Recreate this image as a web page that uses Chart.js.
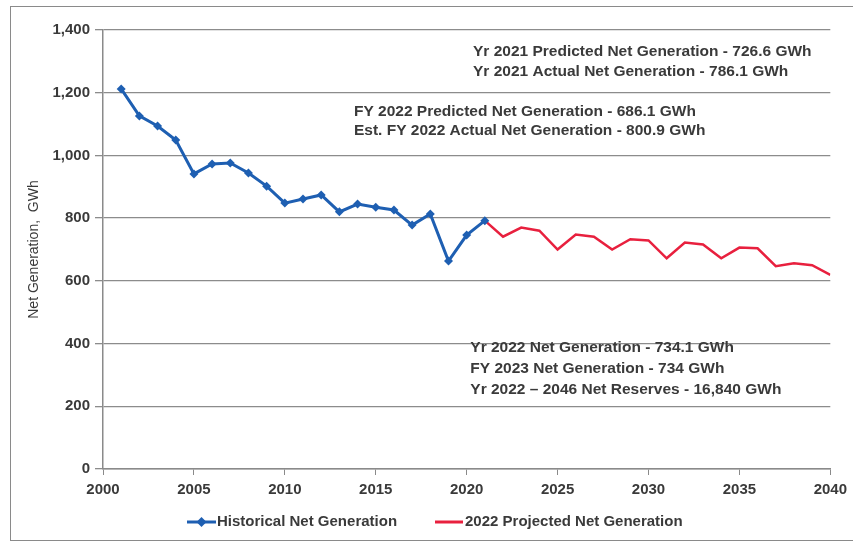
<!DOCTYPE html>
<html>
<head>
<meta charset="utf-8">
<title>Net Generation</title>
<script src="https://cdn.jsdelivr.net/npm/chart.js@4"></script>
<style>
  html, body { margin: 0; padding: 0; background: #fff; overflow: hidden; }
  #wrap { position: relative; width: 853px; height: 542px; overflow: hidden; }
  #frame { position: absolute; left: 10px; top: 6px; width: 900px; height: 533px; border: 1px solid #8a8a8a; pointer-events: none; }
</style>
</head>
<body>
<div id="wrap">
  <canvas id="myChart" width="853" height="542"></canvas>
  <div id="frame"></div>
</div>
<script>
// historical series
const histYears = [2001, 2002, 2003, 2004, 2005, 2006, 2007, 2008, 2009, 2010, 2011,
                   2012, 2013, 2014, 2015, 2016, 2017, 2018, 2019, 2020, 2021];
const histValues = [1212, 1126, 1094, 1049, 941, 973, 976, 944, 902, 848, 861,
                    874, 820, 845, 835, 826, 778, 813, 663, 746, 792];

// 2022 projection
const projYears = [2021, 2022, 2023, 2024, 2025, 2026, 2027, 2028, 2029, 2030, 2031,
                   2032, 2033, 2034, 2035, 2036, 2037, 2038, 2039, 2040];
const projValues = [792, 741, 770, 760, 700, 748, 741, 700, 733, 729, 672,
                    722, 716, 672, 706, 704, 647, 656, 650, 619];

const seriesNames = ['Historical Net Generation', '2022 Projected Net Generation'];
const xTicks = [2000, 2005, 2010, 2015, 2020, 2025, 2030, 2035, 2040];
const yTicks = [0, 200, 400, 600, 800, 1000, 1200, 1400];

const notesTop = ['Yr 2021 Predicted Net Generation - 726.6 GWh',
                  'Yr 2021 Actual Net Generation - 786.1 GWh'];
const notesMid = ['FY 2022 Predicted Net Generation - 686.1 GWh',
                  'Est. FY 2022 Actual Net Generation - 800.9 GWh'];
const notesLow = ['Yr 2022 Net Generation - 734.1 GWh',
                  'FY 2023 Net Generation - 734 GWh',
                  'Yr 2022 \u2013 2046 Net Reserves - 16,840 GWh'];

const FONT = "'Liberation Sans', Arial, sans-serif";
const BLUE = 'rgb(30, 95, 178)';
const RED = 'rgb(232, 32, 62)';
const TXT = '#3a3a3a';

const toPts = (xs, ys) => xs.map((x, i) => ({ x: x, y: ys[i] }));

// text blocks drawn inside the plot, anchored on data coordinates
const notesPlugin = {
    id: 'notes',
    afterDraw(chart) {
        const ctx = chart.ctx;
        const xs = chart.scales.x, ys = chart.scales.y;
        const blocks = [
            { lines: notesTop, x: 2020.35, y: 1330, gap: 20 },
            { lines: notesMid, x: 2013.8, y: 1138, gap: 19 },
            { lines: notesLow, x: 2020.2, y: 388, gap: 21 }
        ];
        ctx.save();
        ctx.fillStyle = TXT;
        ctx.font = "bold 15.5px " + FONT;
        ctx.textBaseline = 'middle';
        ctx.textAlign = 'left';
        blocks.forEach(b => {
            const px = xs.getPixelForValue(b.x);
            const py = ys.getPixelForValue(b.y);
            b.lines.forEach((t, i) => ctx.fillText(t, px, py + i * b.gap));
        });
        ctx.restore();
    }
};

// legend at the bottom: blue line with diamond, red line
const legendPlugin = {
    id: 'bottomLegend',
    afterDraw(chart) {
        const ctx = chart.ctx;
        const y = 522;
        ctx.save();
        ctx.font = "bold 15px " + FONT;
        ctx.textBaseline = 'middle';
        ctx.fillStyle = TXT;

        ctx.strokeStyle = BLUE;
        ctx.lineWidth = 3;
        ctx.beginPath(); ctx.moveTo(187, y); ctx.lineTo(216, y); ctx.stroke();
        ctx.fillStyle = BLUE;
        ctx.beginPath();
        ctx.moveTo(201.5, y - 5); ctx.lineTo(206.5, y); ctx.lineTo(201.5, y + 5); ctx.lineTo(196.5, y);
        ctx.closePath(); ctx.fill();
        ctx.fillStyle = TXT;
        ctx.fillText(seriesNames[0], 217, y);

        ctx.strokeStyle = RED;
        ctx.beginPath(); ctx.moveTo(435, y); ctx.lineTo(463, y); ctx.stroke();
        ctx.fillText(seriesNames[1], 465, y);
        ctx.restore();
    }
};

const ctx = document.getElementById('myChart').getContext('2d');
const chart = new Chart(ctx, {
    type: 'line',
    data: {
        datasets: [{
            label: seriesNames[0],
            data: toPts(histYears, histValues),
            borderColor: BLUE,
            backgroundColor: BLUE,
            borderWidth: 3,
            pointStyle: 'rectRot',
            pointRadius: 4.5,
            pointBorderWidth: 0,
            tension: 0,
            order: 1
        }, {
            label: seriesNames[1],
            data: toPts(projYears, projValues),
            borderColor: RED,
            backgroundColor: RED,
            borderWidth: 2.5,
            pointRadius: 0,
            tension: 0,
            order: 2
        }]
    },
    options: {
        responsive: false,
        animation: false,
        layout: { padding: { top: 30, right: 18, bottom: 33, left: 26 } },
        plugins: {
            legend: { display: false },
            tooltip: { enabled: false }
        },
        scales: {
            x: {
                type: 'linear',
                min: 2000,
                max: 2040,
                afterBuildTicks: s => { s.ticks = xTicks.map(v => ({ value: v })); },
                afterFit: s => { s.height = 40; },
                grid: { drawOnChartArea: false, drawTicks: true, tickLength: 6, color: '#8a8a8a' },
                border: { color: '#8a8a8a', width: 1.5 },
                ticks: {
                    color: TXT,
                    padding: 6,
                    font: { family: FONT, size: 15, weight: 'bold' },
                    callback: v => String(v),
                    maxRotation: 0
                }
            },
            y: {
                min: 0,
                max: 1400,
                afterBuildTicks: s => { s.ticks = yTicks.map(v => ({ value: v })); },
                afterFit: s => { s.width = 77; },
                grid: { color: '#8c8c8c', lineWidth: 1.3, tickLength: 8 },
                border: { color: '#8a8a8a', width: 1.5 },
                ticks: {
                    color: TXT,
                    padding: 5,
                    font: { family: FONT, size: 15, weight: 'bold' },
                    callback: v => v.toLocaleString('en-US')
                },
                title: {
                    display: true,
                    text: 'Net Generation,  GWh',
                    color: TXT,
                    padding: { top: 0, bottom: 8 },
                    font: { family: FONT, size: 14 }
                }
            }
        }
    },
    plugins: [notesPlugin, legendPlugin]
});
</script>
</body>
</html>
